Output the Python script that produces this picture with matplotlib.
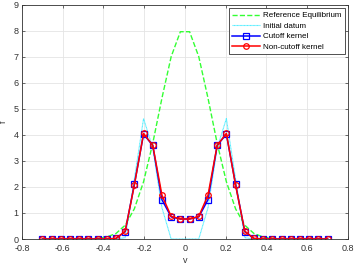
import numpy as np
import matplotlib
matplotlib.use("Agg")
import matplotlib.pyplot as plt

# velocity grid (cell centres, symmetric, no point at 0)
v = np.linspace(-0.7, 0.7, 32)

# right half values for |v| = 0.023, 0.068, ..., 0.7 (mirrored below)
eq_half = [7.97, 7.01, 5.42, 3.68, 2.20, 1.16, 0.53, 0.21, 0.08, 0.02,
           0, 0, 0, 0, 0, 0]
init_half = [0, 0, 1.2, 3.5, 4.63, 2.3, 0.05, 0, 0, 0,
             0, 0, 0, 0, 0, 0]
cutoff_half = [0.77, 0.85, 1.51, 3.6, 4.03, 2.1, 0.28, 0.02, 0, 0,
               0, 0, 0, 0, 0, 0]
noncutoff_half = [0.77, 0.87, 1.68, 3.6, 4.06, 2.07, 0.30, 0.02, 0, 0,
                  0, 0, 0, 0, 0, 0]


def mirror(half):
    return np.array(half[::-1] + half)


f_eq = mirror(eq_half)
f_init = mirror(init_half)
f_cut = mirror(cutoff_half)
f_noncut = mirror(noncutoff_half)

plt.rcParams['font.family'] = ['Liberation Sans', 'DejaVu Sans']
fig = plt.figure(figsize=(3.54, 2.66), dpi=100)
ax = fig.add_axes([0.062, 0.1015, 0.921, 0.88])

ax.plot(v, f_eq, '--', color='#33ff33', lw=1.0, label='Reference Equilibrium')
ax.plot(v, f_init, color='#55eeff', lw=0.8, linestyle=(0, (1, 0.3)), label='Initial datum')
ax.plot(v, f_cut, '-s', color='#0000ff', lw=1.1, ms=4, mfc='none', mew=0.9, label='Cutoff kernel')
ax.plot(v, f_noncut, '-o', color='#ff0000', lw=1.1, ms=4, mfc='none', mew=0.9, label='Non-cutoff kernel')

ax.set_xlim(-0.8, 0.8)
ax.set_ylim(0, 9)
ax.set_xticks(np.arange(-0.8, 0.81, 0.2))
ax.set_yticks(np.arange(0, 10, 1))
ax.set_xticklabels(['-0.8', '-0.6', '-0.4', '-0.2', '0', '0.2', '0.4', '0.6', '0.8'])
ax.grid(True, color='#e4e4e4', lw=0.6)
ax.set_axisbelow(True)
ax.tick_params(labelsize=6.5, colors='#333333', length=2, width=0.5, direction='in',
               top=True, right=True)
ax.tick_params(axis='x', pad=3.5)
ax.tick_params(axis='y', pad=2.5)
for s in ax.spines.values():
    s.set_color('#333333')
    s.set_linewidth(0.6)
ax.set_xlabel('v', fontsize=6.5, color='#333333', labelpad=2)
ax.set_ylabel('f', fontsize=6.5, color='#333333', labelpad=4)

leg = ax.legend(loc='upper right', fontsize=5.8, frameon=True, fancybox=False,
                edgecolor='#333333', framealpha=1, borderaxespad=0.4,
                handlelength=3.4, labelspacing=0.35, borderpad=0.45, handletextpad=0.4)
leg.get_frame().set_linewidth(0.6)

fig.savefig('out.png', dpi=100)
